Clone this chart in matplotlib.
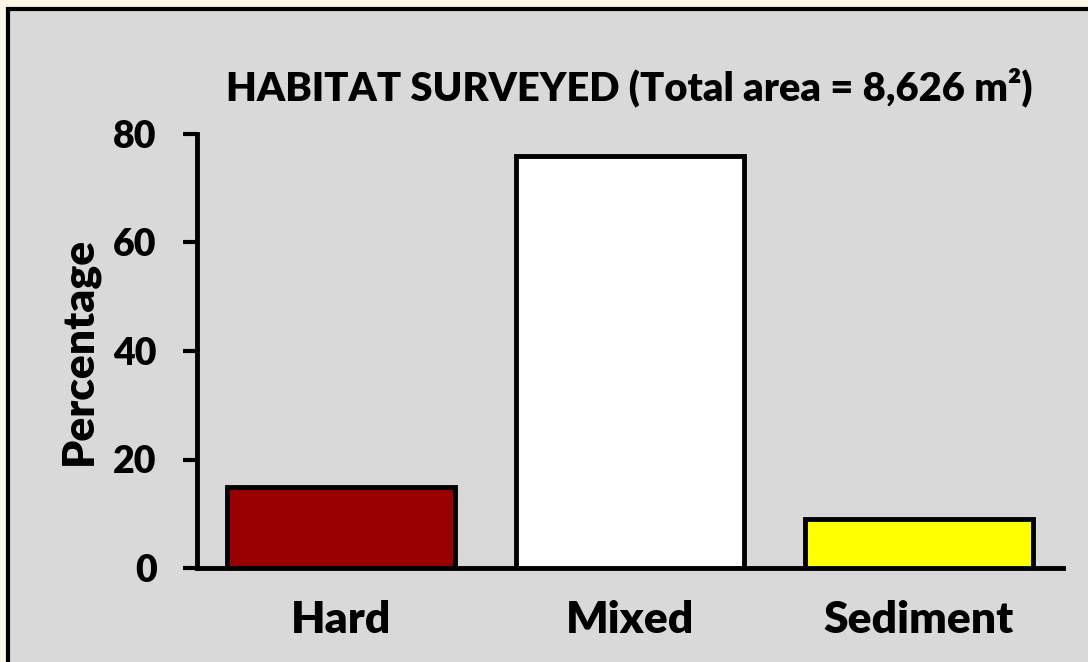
import matplotlib
matplotlib.use("Agg")
import matplotlib.pyplot as plt
from matplotlib.patches import Rectangle

categories = ["Hard", "Mixed", "Sediment"]
values = [15, 76, 9]
colors = ["#990000", "#FFFFFF", "#FFFF00"]
yticks = [0, 20, 40, 60, 80]
title = "HABITAT SURVEYED (Total area = 8,626 m²)"
ylabel = "Percentage"

plt.rcParams['font.family'] = ['Lato', 'DejaVu Sans']
plt.rcParams['font.weight'] = 'bold'

fig = plt.figure(figsize=(10.88, 6.62), dpi=100)
fig.patch.set_facecolor("#FEF7E8")

W, H = 1088, 662
panel = Rectangle((8 / W, -0.1), 1.2, 1 - 9 / H + 0.1, transform=fig.transFigure,
                  facecolor="#D9D9D9", edgecolor="black", linewidth=3, zorder=-10)
fig.patches.append(panel)

ax = fig.add_axes([197 / W, 1 - 568 / H, (1063 - 197) / W, (568 - 134) / H])
ax.set_zorder(1)
ax.set_facecolor("none")
x = range(len(categories))
ax.bar(x, values, width=0.79, color=colors, edgecolor="black", linewidth=3.5, zorder=3)
ax.set_xlim(-0.5, 2.5)
ax.set_ylim(0, 80)
ax.set_yticks(yticks)
ax.set_xticks(list(x))
ax.set_xticklabels(categories, fontsize=32, fontweight='heavy')
ax.set_yticklabels([str(v) for v in yticks], fontsize=27, fontweight='heavy')
ax.tick_params(axis='y', length=10, width=3, pad=19)
ax.tick_params(axis='x', length=0, pad=23)
for s in ["top", "right"]:
    ax.spines[s].set_visible(False)
for s in ["left", "bottom"]:
    ax.spines[s].set_linewidth(3.5)
ax.set_ylabel(ylabel, fontsize=32, fontweight='heavy', labelpad=10)
fig.text(629 / W, 1 - 88 / H, title, ha="center", va="center", fontsize=28.7,
         fontweight='heavy', zorder=2)

fig.savefig("out.png", dpi=100, facecolor=fig.get_facecolor())
